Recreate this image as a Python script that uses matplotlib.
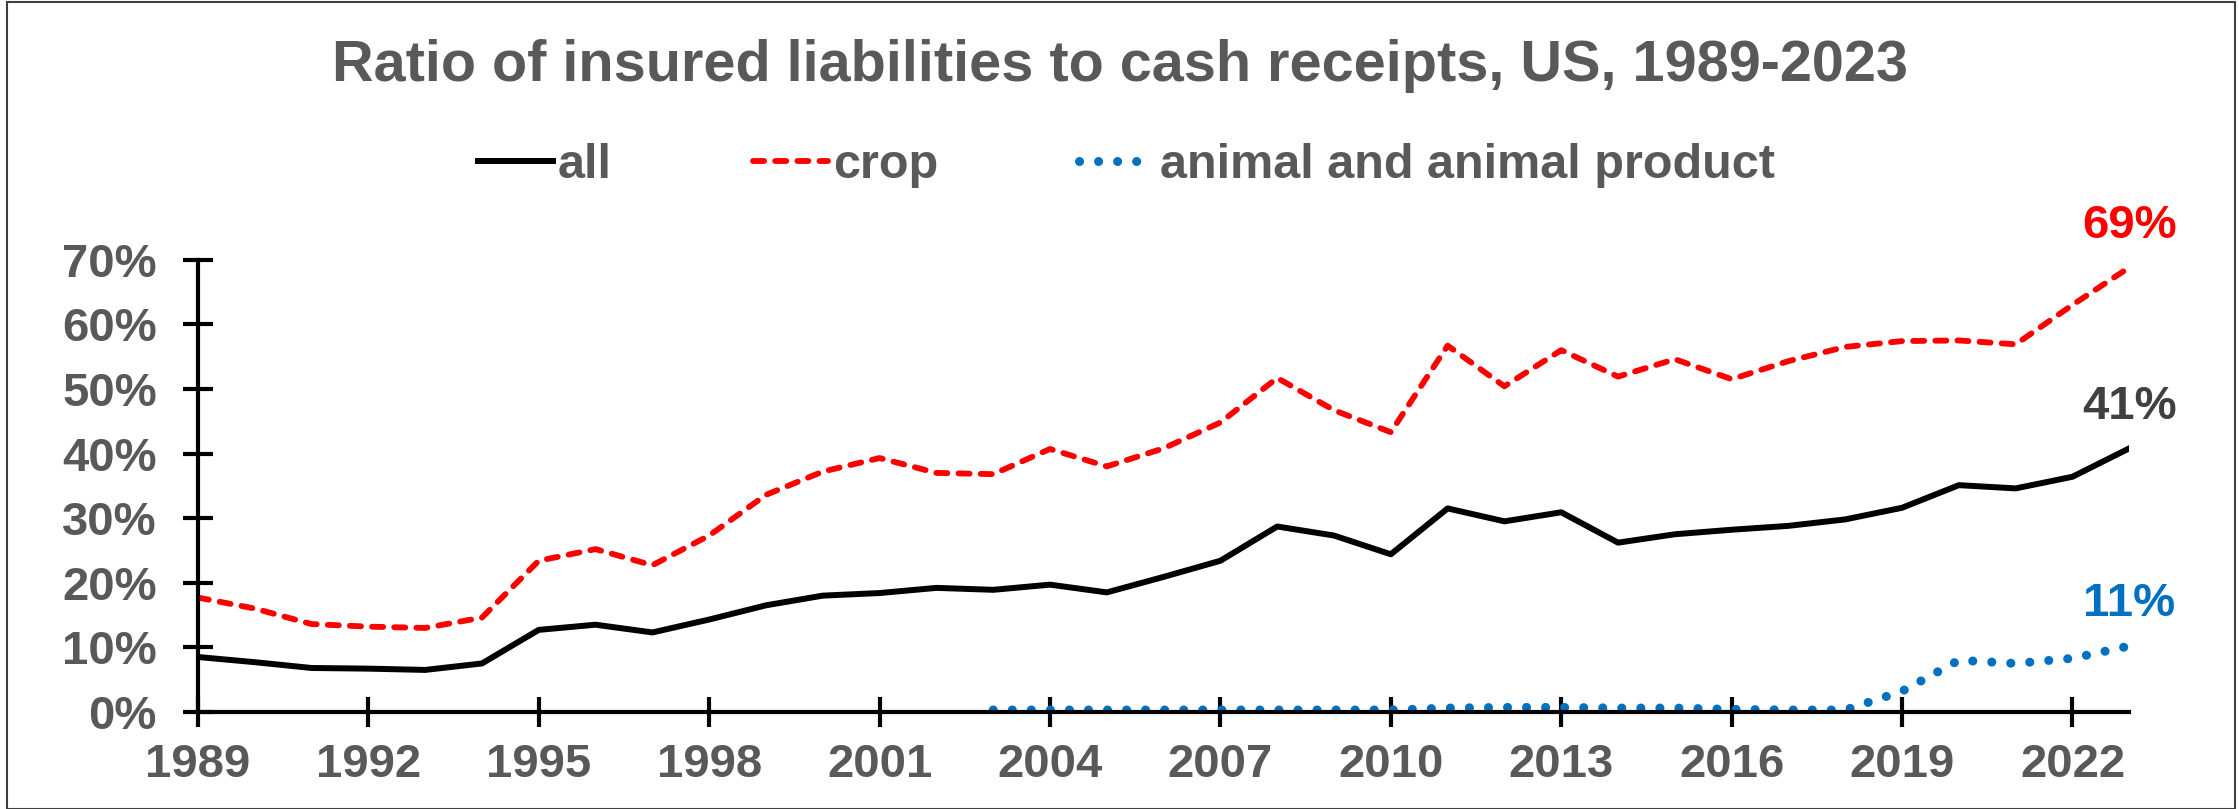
import matplotlib.pyplot as plt
from matplotlib.patches import Rectangle
from matplotlib.ticker import PercentFormatter

# data
years = list(range(1989, 2024))
all_ratio = [8.5, 7.7, 6.8, 6.7, 6.5, 7.5, 12.7, 13.5, 12.3, 14.3,
             16.5, 18.0, 18.4, 19.2, 18.9, 19.7, 18.5, 20.9, 23.4, 28.7,
             27.3, 24.4, 31.5, 29.5, 30.9, 26.2, 27.5, 28.2, 28.8, 29.8,
             31.6, 35.1, 34.6, 36.4, 40.8]
crop_ratio = [17.7, 16.0, 13.6, 13.2, 13.0, 14.6, 23.4, 25.2, 22.7, 27.3,
              33.6, 37.2, 39.3, 37.0, 36.8, 40.7, 38.0, 40.8, 44.8, 51.7,
              46.7, 43.3, 56.7, 50.4, 56.0, 51.9, 54.6, 51.5, 54.3, 56.5,
              57.4, 57.5, 56.9, 63.0, 68.8]
animal_years = list(range(2003, 2024))
animal_ratio = [0.3, 0.3, 0.3, 0.3, 0.3, 0.3, 0.3, 0.3, 0.6, 0.7,
                0.7, 0.6, 0.6, 0.4, 0.3, 0.3, 3.2, 8.0, 7.5, 8.3, 10.2]
end_labels = ["41%", "69%", "11%"]

GREY = "#595959"
RED = "#FF0000"
BLUE = "#0070C0"

plt.rcParams["font.family"] = ["Liberation Sans", "DejaVu Sans"]
plt.rcParams["font.weight"] = "bold"

fig = plt.figure(figsize=(22.39, 8.09), dpi=100)
ax = fig.add_axes([0.0884, 0.12, 0.8626, 0.559])

# frame around the whole figure
fig.patches.append(Rectangle((0.003, 0.0), 0.995, 0.997, transform=fig.transFigure,
                             fill=False, edgecolor="#404040", lw=1.5))

ax.plot(years, all_ratio, color="black", lw=4.3, label="all")
ax.plot(years, crop_ratio, color=RED, lw=4.2, ls=(0, (1.9, 1.9)),
        dash_capstyle="round", label="crop")
ax.plot(animal_years, animal_ratio, color=BLUE, lw=6.5, ls=(0, (0.01, 2.1)),
        dash_capstyle="round", label="animal and animal product")

ax.set_xlim(1989, 2023)
ax.set_ylim(0, 70)
ax.set_xticks(range(1989, 2023, 3))
ax.set_yticks(range(0, 71, 10))
ax.yaxis.set_major_formatter(PercentFormatter(decimals=0))

for side in ["top", "right"]:
    ax.spines[side].set_visible(False)
for side in ["left", "bottom"]:
    ax.spines[side].set_linewidth(3)
ax.tick_params(axis="both", direction="inout", length=21, width=3,
               labelsize=34, labelcolor=GREY, color="black")
ax.tick_params(axis="x", pad=12)
ax.tick_params(axis="y", pad=19)
for lab in ax.get_xticklabels() + ax.get_yticklabels():
    lab.set_fontweight("bold")

# end-of-series value labels
ax.text(2023, all_ratio[-1] + 4.6, end_labels[0], color="#404040", fontsize=34,
        fontweight="bold", ha="center", va="baseline", clip_on=False)
ax.text(2023, crop_ratio[-1] + 4.6, end_labels[1], color=RED, fontsize=34,
        fontweight="bold", ha="center", va="baseline", clip_on=False)
ax.text(2023, animal_ratio[-1] + 4.6, end_labels[2], color=BLUE, fontsize=34,
        fontweight="bold", ha="center", va="baseline", clip_on=False)

fig.suptitle("Ratio of insured liabilities to cash receipts, US, 1989-2023",
             x=0.5, y=0.900, va="baseline", fontsize=41.5, fontweight="bold", color=GREY)

leg = fig.legend(loc="center", bbox_to_anchor=(0.503, 0.795), ncol=3, frameon=False,
                 fontsize=35, handlelength=1.55, handletextpad=0.1, columnspacing=2.9)
for t in leg.get_texts():
    t.set_color(GREY)
    t.set_fontweight("bold")

fig.savefig("out.png", dpi=100)
